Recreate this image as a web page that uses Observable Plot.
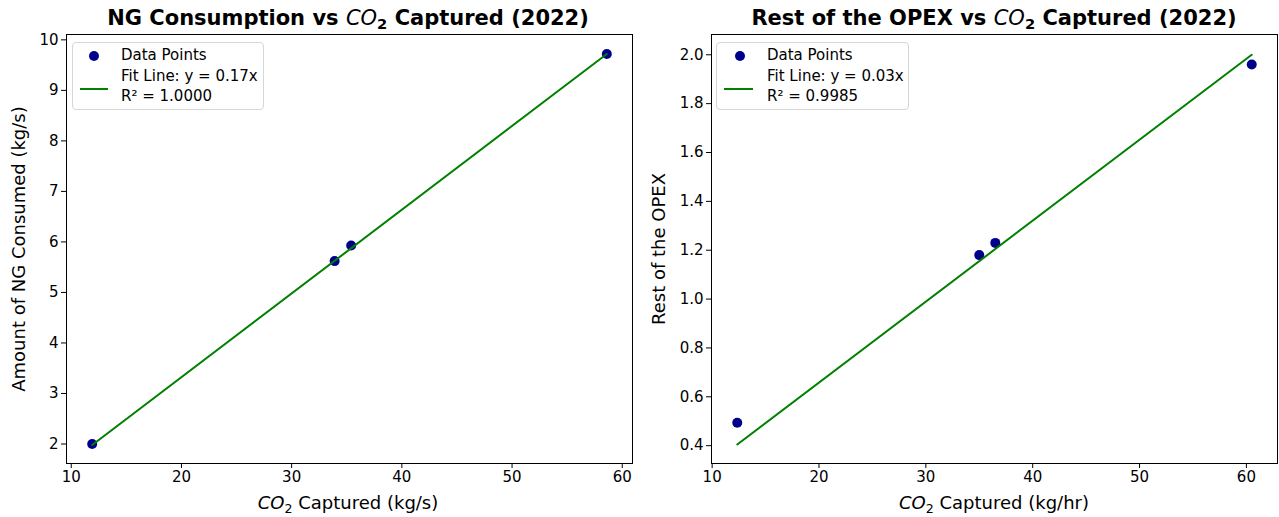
<!DOCTYPE html>
<html>
<head>
<meta charset="utf-8">
<script src="https://cdn.jsdelivr.net/npm/d3@7"></script>
<script src="https://cdn.jsdelivr.net/npm/@observablehq/plot@0.6"></script>
<style>
  body { margin: 0; background: #fff; font-family: "DejaVu Sans", sans-serif; color: #000; }
  #wrap { position: relative; width: 1279px; height: 517px; overflow: hidden; }
  .panel { position: absolute; top: 0; height: 517px; }
  .plotbox { position: absolute; top: 30px; left: 0; }
  .title { position: absolute; top: 5px; font-weight: bold; font-size: 21px; white-space: nowrap; transform: translateX(-50%); line-height: 26px; }
  .title i, .xlabel i { font-weight: normal; font-style: italic; }
  sub { font-size: 0.7em; vertical-align: -0.3em; line-height: 0; }
  .xlabel { position: absolute; top: 491px; font-size: 18px; white-space: nowrap; transform: translateX(-50%); line-height: 24px; }
  .ylabel { position: absolute; font-size: 18px; white-space: nowrap; transform: translate(-50%, -50%) rotate(-90deg); line-height: 24px; }
  .legend { position: absolute; border: 1px solid #d6d6d6; border-radius: 4px; background: rgba(255,255,255,0.85); font-size: 15px; box-sizing: border-box; }
  .legend .t { position: absolute; white-space: nowrap; line-height: 18px; transform: translateY(-50%); }
  .legend svg { position: absolute; left: 0; top: 0; }
</style>
</head>
<body>
<div id="wrap"></div>
<script>
// ---- data ----
const xTicks = [10, 20, 30, 40, 50, 60];

const ngCaptured = [11.9, 33.9, 35.4, 58.6];      // CO2 captured (kg/s)
const ngConsumed = [2.0, 5.62, 5.93, 9.72];       // NG consumed (kg/s)
const ngFitX = [11.9, 58.6];
const ngFitY = [1.98, 9.72];
const ngYTicks = [2, 3, 4, 5, 6, 7, 8, 9, 10];

const opexCaptured = [12.35, 35.0, 36.5, 60.5];   // CO2 captured (kg/hr)
const opexValues = [0.494, 1.18, 1.23, 1.96];     // rest of the OPEX
const opexFitX = [12.35, 60.5];
const opexFitY = [0.405, 2.0];
const opexYTicks = [0.4, 0.6, 0.8, 1.0, 1.2, 1.4, 1.6, 1.8, 2.0];

const ngLegend = ["Data Points", "Fit Line: y = 0.17x", "R\u00b2 = 1.0000"];
const opexLegend = ["Data Points", "Fit Line: y = 0.03x", "R\u00b2 = 0.9985"];

const POINT_COLOR = "#00008b";
const LINE_COLOR = "#008000";

function makePlot(cfg) {
  const pts = cfg.xs.map((x, i) => ({x, y: cfg.ys[i]}));
  const fit = cfg.fx.map((x, i) => ({x, y: cfg.fy[i]}));
  return Plot.plot({
    width: cfg.width,
    height: 487,
    marginTop: 4,
    marginBottom: 54,
    marginLeft: cfg.ml,
    marginRight: cfg.mr,
    style: {fontFamily: "DejaVu Sans, sans-serif", fontSize: "15px", color: "#000", background: "transparent", overflow: "visible"},
    x: {domain: cfg.xDomain},
    y: {domain: cfg.yDomain},
    marks: [
      Plot.dot(pts, {x: "x", y: "y", r: 5, fill: POINT_COLOR, stroke: null}),
      Plot.line(fit, {x: "x", y: "y", stroke: LINE_COLOR, strokeWidth: 2}),
      Plot.frame({stroke: "#000", strokeWidth: 1}),
      Plot.axisX({ticks: xTicks, tickSize: 5, tickPadding: 3, label: null, fontSize: 15, stroke: "#000"}),
      Plot.axisY({ticks: cfg.yTicks, tickFormat: cfg.yFmt, tickSize: 5, tickPadding: 3, label: null, fontSize: 15, stroke: "#000"})
    ]
  });
}

function legendHTML(labels, box, dotX, textX, lineX0, lineX1) {
  return `<div class="legend" style="left:${box.l}px;top:${box.t}px;width:${box.w}px;height:${box.h}px">
    <svg width="${box.w}" height="${box.h}">
      <circle cx="${dotX}" cy="13" r="5" fill="${POINT_COLOR}"></circle>
      <line x1="${lineX0}" x2="${lineX1}" y1="46" y2="46" stroke="${LINE_COLOR}" stroke-width="2"></line>
    </svg>
    <div class="t" style="left:${textX}px;top:12px">${labels[0]}</div>
    <div class="t" style="left:${textX}px;top:33px">${labels[1]}</div>
    <div class="t" style="left:${textX}px;top:53px">${labels[2]}</div>
  </div>`;
}

const wrap = document.getElementById("wrap");

// Left panel
const left = document.createElement("div");
left.className = "panel";
left.style.left = "0px";
left.style.width = "640px";
left.innerHTML = `
  <div class="title" style="left:348px">NG Consumption vs <i>CO</i><sub>2</sub> Captured (2022)</div>
  <div class="plotbox"></div>
  <div class="xlabel" style="left:348px"><i>CO</i><sub>2</sub> Captured (kg/s)</div>
  <div class="ylabel" style="left:19px;top:249px">Amount of NG Consumed (kg/s)</div>
  ${legendHTML(ngLegend, {l: 72, t: 42, w: 192, h: 68}, 21, 48, 7, 35)}
`;
wrap.appendChild(left);
left.querySelector(".plotbox").appendChild(makePlot({
  width: 640, ml: 66, mr: 8,
  xDomain: [9.57, 60.93], yDomain: [1.614, 10.106],
  xs: ngCaptured, ys: ngConsumed, fx: ngFitX, fy: ngFitY,
  yTicks: ngYTicks, yFmt: d3.format("d")
}));

// Right panel
const right = document.createElement("div");
right.className = "panel";
right.style.left = "640px";
right.style.width = "639px";
right.innerHTML = `
  <div class="title" style="left:354px">Rest of the OPEX vs <i>CO</i><sub>2</sub> Captured (2022)</div>
  <div class="plotbox"></div>
  <div class="xlabel" style="left:354px"><i>CO</i><sub>2</sub> Captured (kg/hr)</div>
  <div class="ylabel" style="left:19px;top:249px">Rest of the OPEX</div>
  ${legendHTML(opexLegend, {l: 76, t: 42, w: 193, h: 68}, 23, 50, 7, 36)}
`;
wrap.appendChild(right);
right.querySelector(".plotbox").appendChild(makePlot({
  width: 639, ml: 71, mr: 2,
  xDomain: [9.94, 62.91], yDomain: [0.327, 2.083],
  xs: opexCaptured, ys: opexValues, fx: opexFitX, fy: opexFitY,
  yTicks: opexYTicks, yFmt: d3.format(".1f")
}));
</script>
</body>
</html>
